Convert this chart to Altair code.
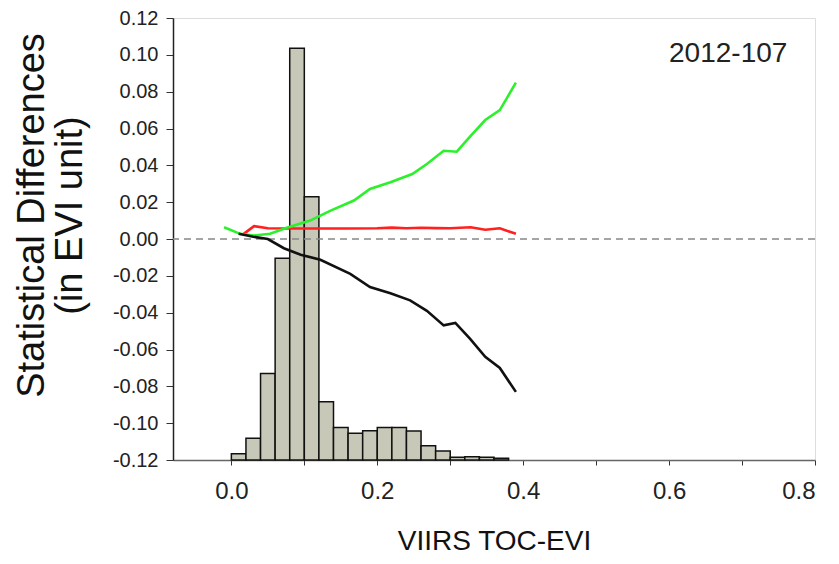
import altair as alt
import pandas as pd

# Histogram (bin left edges, bar tops drawn from the -0.12 baseline)
bin_left = [0.00, 0.02, 0.04, 0.06, 0.08, 0.10, 0.12, 0.14, 0.16, 0.18,
            0.20, 0.22, 0.24, 0.26, 0.28, 0.30, 0.32, 0.34, 0.36]
bin_top = [-0.1166, -0.1082, -0.0730, -0.0104, 0.1036, 0.0230, -0.0884, -0.1023,
           -0.1055, -0.1041, -0.1023, -0.1023, -0.1043, -0.1122, -0.1151, -0.1185,
           -0.1183, -0.1185, -0.1190]
BIN_W = 0.02
BASE = -0.12

green_x = [-0.010, 0.012, 0.031, 0.053, 0.076, 0.108, 0.136, 0.168, 0.190, 0.218,
           0.248, 0.268, 0.291, 0.309, 0.328, 0.348, 0.368, 0.390]
green_y = [0.0064, 0.0028, 0.0019, 0.0028, 0.0061, 0.0100, 0.0154, 0.0209, 0.0272, 0.0308,
           0.0353, 0.0407, 0.0479, 0.0474, 0.0560, 0.0646, 0.0700, 0.0849]

black_x = [0.010, 0.030, 0.050, 0.072, 0.095, 0.122, 0.163, 0.190, 0.218, 0.245,
           0.268, 0.291, 0.307, 0.327, 0.348, 0.368, 0.390]
black_y = [0.0028, 0.0012, 0.0000, -0.0050, -0.0085, -0.0113, -0.0189, -0.0261, -0.0295, -0.0333,
           -0.0390, -0.0469, -0.0456, -0.0541, -0.0640, -0.0700, -0.0830]

red_x = [0.017, 0.031, 0.050, 0.080, 0.120, 0.160, 0.200, 0.220, 0.240, 0.260,
         0.280, 0.300, 0.328, 0.348, 0.368, 0.390]
red_y = [0.0028, 0.0070, 0.0058, 0.0057, 0.0057, 0.0057, 0.0058, 0.0062, 0.0058, 0.0061,
         0.0059, 0.0058, 0.0064, 0.0050, 0.0058, 0.0028]

y_ticks = [-0.12, -0.10, -0.08, -0.06, -0.04, -0.02, 0.0, 0.02, 0.04, 0.06, 0.08, 0.10, 0.12]
x_ticks = [0.0, 0.1, 0.2, 0.3, 0.4, 0.5, 0.6, 0.7, 0.8]

annot_label = ["2012-107"]
annot_x = [0.681]
annot_y = [0.1005]

FONT = "Liberation Sans"

hist = pd.DataFrame({"x": bin_left, "x2": [b + BIN_W for b in bin_left], "y": bin_top})
green = pd.DataFrame({"x": green_x, "y": green_y})
black = pd.DataFrame({"x": black_x, "y": black_y})
red = pd.DataFrame({"x": red_x, "y": red_y})
zero = pd.DataFrame({"y": [0.0]})
annot = pd.DataFrame({"label": annot_label, "x": annot_x, "y": annot_y})

xscale = alt.Scale(domain=[-0.08, 0.8], nice=False, zero=False)
yscale = alt.Scale(domain=[-0.12, 0.12], nice=False, zero=False)

x_axis = alt.Axis(
    title="VIIRS TOC-EVI", values=x_ticks,
    labelExpr="(round(datum.value*10) % 2 == 0) ? format(datum.value, '.1f') : ''",
    labelFont=FONT, labelFontSize=24, labelColor="#222", labelPadding=26,
    labelBaseline="middle", labelOverlap=False, tickSize=5, tickColor="#333",
    domainColor="#666", domainWidth=1.5, grid=False, titleFont=FONT, titleFontSize=28,
    titleFontWeight="normal", titleColor="#111", titleY=81, titleBaseline="middle",
)
y_axis = alt.Axis(
    title=["Statistical Differences", "(in EVI unit)"], values=y_ticks,
    labelExpr="(datum.value < -0.0001 ? '-' : '') + format(abs(datum.value), '.2f')",
    labelFont=FONT, labelFontSize=20, labelColor="#222", labelPadding=8,
    labelOverlap=False, labelBaseline="middle", labelFlush=False, labelBound=False,
    tickSize=7, tickColor="#333", domainColor="#222", domainWidth=1.5, grid=False,
    titleFont=FONT, titleFontSize=38, titleFontWeight="normal", titleColor="#111",
    titleAngle=270, titleX=-141, titleY=197, titleAlign="center",
    titleBaseline="middle", titleLineHeight=38,
)

X = alt.X("x:Q", scale=xscale, axis=x_axis)
Y = alt.Y("y:Q", scale=yscale, axis=y_axis)

bars = alt.Chart(hist).mark_rect(
    fill="#c8c8b8", stroke="#111", strokeWidth=1.5
).encode(x=X, x2="x2:Q", y=Y, y2=alt.datum(BASE))

zline = alt.Chart(zero).mark_rule(
    color="#888", strokeDash=[7, 5], strokeWidth=1.5
).encode(y=Y)

def series(df, color):
    return alt.Chart(df).mark_line(color=color, strokeWidth=2.6).encode(x=X, y=Y)

red_l = series(red, "#ff2020")
green_l = series(green, "#2bf02b")
black_l = series(black, "#111111")

text = alt.Chart(annot).mark_text(
    font=FONT, fontSize=28, color="#222", align="center", baseline="middle"
).encode(x=X, y=Y, text="label:N")

chart = alt.layer(bars, zline, red_l, green_l, black_l, text).properties(
    width=642, height=442,
    autosize=alt.AutoSizeParams(type="none"),
    padding={"left": 165, "top": 10, "right": 16, "bottom": 96},
).configure_view(
    stroke="#555", strokeWidth=1.5
).configure_axis(
    labelOverlap=False
).configure(background="white")

chart.save("out.html", embed_options={"renderer": "svg", "actions": False})
